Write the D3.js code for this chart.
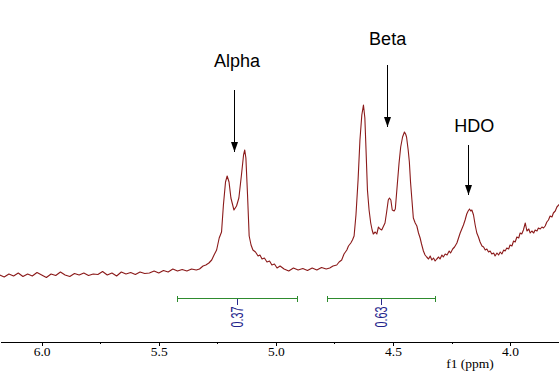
<!DOCTYPE html>
<meta charset="utf-8">
<style>
    body { margin: 0; background: #fff; }
    .spectrum { fill: none; stroke: #8b1a1a; stroke-width: 1.1px; stroke-linejoin: round; }
    .axis path, .axis line { stroke: #000; shape-rendering: crispEdges; }
    .axis text { font-family: "Liberation Serif", "Times New Roman", serif; font-size: 13.5px; fill: #000; }
    .peak-label { font-family: "Liberation Sans", Arial, sans-serif; font-size: 18px; fill: #000; }
    .integral line { stroke: #2e8b2e; stroke-width: 1px; shape-rendering: crispEdges; }
    .integral .mark { stroke: #2a2a8c; }
    .integral text { font-family: "Liberation Sans", Arial, sans-serif; font-size: 16px; fill: #22228b; }
</style>
<svg width="559" height="387"></svg>
<script src="https://d3js.org/d3.v7.min.js"></script>
<script>

    // spectrum: [shift (ppm), intensity (a.u.)]
    var baselineLeft = [
        [6.18, 5], [6.16, 3], [6.14, 6], [6.12, 4], [6.10, 7], [6.08, 3.5], [6.06, 6], [6.04, 4],
        [6.02, 7.5], [6.00, 5], [5.98, 2.5], [5.96, 6], [5.94, 4.5], [5.92, 8], [5.90, 5], [5.88, 3.5],
        [5.86, 6.5], [5.84, 5], [5.82, 7], [5.80, 4.5], [5.78, 6], [5.76, 5.5], [5.74, 8.5], [5.72, 5],
        [5.70, 7], [5.68, 4], [5.66, 8], [5.64, 6], [5.62, 7.5], [5.60, 5.5], [5.58, 8], [5.56, 6.5],
        [5.54, 7], [5.52, 9], [5.50, 7], [5.48, 9.5], [5.46, 8], [5.44, 11], [5.42, 9], [5.40, 10.5],
        [5.38, 9], [5.36, 11], [5.34, 10], [5.326, 11]
    ];
    var alphaPeak = [
        [5.311, 14], [5.299, 15], [5.286, 17], [5.274, 20], [5.264, 25], [5.253, 30], [5.242, 42],
        [5.232, 48], [5.224, 75], [5.215, 98], [5.208, 104], [5.200, 98], [5.192, 82], [5.179, 70],
        [5.168, 74], [5.158, 82], [5.147, 105], [5.138, 125], [5.133, 130], [5.128, 122], [5.121, 85],
        [5.114, 44], [5.106, 35], [5.098, 30], [5.087, 28], [5.076, 24], [5.068, 25], [5.059, 21],
        [5.049, 22], [5.038, 18], [5.027, 19], [5.017, 15], [5.006, 16], [4.995, 12], [4.982, 14]
    ];
    var middle = [
        [4.965, 11], [4.945, 9], [4.925, 12], [4.905, 10], [4.885, 11.5], [4.865, 9.5], [4.845, 12],
        [4.825, 10], [4.805, 12.5], [4.785, 11], [4.770, 12]
    ];
    var betaPeak = [
        [4.756, 14], [4.740, 15], [4.730, 18], [4.719, 20], [4.709, 26], [4.697, 30], [4.690, 34],
        [4.680, 37], [4.673, 40], [4.666, 44], [4.658, 65], [4.649, 100], [4.641, 140], [4.633, 165],
        [4.626, 175], [4.620, 162], [4.615, 130], [4.609, 90], [4.602, 70], [4.595, 57], [4.589, 50],
        [4.584, 46], [4.576, 48], [4.569, 46], [4.562, 53], [4.555, 51], [4.548, 50], [4.540, 54],
        [4.534, 57], [4.527, 68], [4.520, 80], [4.515, 82], [4.509, 80], [4.503, 70], [4.495, 69],
        [4.490, 71], [4.481, 97], [4.474, 117], [4.467, 133], [4.459, 143], [4.451, 148], [4.446, 146],
        [4.442, 143], [4.435, 130], [4.430, 118], [4.425, 98], [4.419, 80], [4.413, 62], [4.405, 57],
        [4.398, 54], [4.391, 47], [4.384, 42], [4.378, 36], [4.370, 29], [4.363, 25], [4.356, 23],
        [4.348, 21], [4.341, 24], [4.334, 20], [4.327, 22], [4.320, 19], [4.313, 21], [4.305, 23],
        [4.299, 21], [4.291, 25], [4.285, 23], [4.277, 26], [4.269, 25], [4.260, 29], [4.254, 27],
        [4.245, 31], [4.237, 33]
    ];
    var hdoRegion = [
        [4.227, 37], [4.220, 42], [4.213, 47], [4.206, 51], [4.199, 55], [4.192, 60], [4.185, 66],
        [4.179, 69], [4.173, 71], [4.168, 69], [4.163, 70], [4.156, 65], [4.149, 55], [4.142, 47],
        [4.135, 43], [4.128, 38], [4.120, 34], [4.113, 33], [4.106, 30], [4.099, 31], [4.092, 28],
        [4.085, 29], [4.078, 26], [4.070, 27], [4.064, 24], [4.056, 27], [4.049, 25], [4.042, 28],
        [4.035, 26], [4.027, 30], [4.021, 29], [4.014, 32], [4.006, 31], [4.000, 35], [3.992, 34],
        [3.985, 39], [3.978, 38], [3.971, 43], [3.963, 42], [3.957, 47], [3.950, 46], [3.943, 50],
        [3.935, 57], [3.928, 49], [3.920, 51], [3.914, 47], [3.907, 49], [3.899, 47], [3.893, 50],
        [3.885, 49], [3.879, 52], [3.871, 51], [3.864, 53], [3.857, 52], [3.850, 54], [3.843, 58],
        [3.836, 60], [3.829, 64], [3.821, 63], [3.815, 67], [3.807, 69], [3.800, 73], [3.792, 75],
        [3.786, 77]
    ];

    var majorTicks = [6.0, 5.5, 5.0, 4.5, 4.0];
    var minorTicks = [5.75, 5.25, 4.75, 4.25];

    // integrals
    var integralFrom = [5.421, 4.783];
    var integralTo = [4.911, 4.319];
    var integralValues = ["0.37", "0.63"];

    // peak annotations
    var peakNames = ["Alpha", "Beta", "HDO"];
    var peakShift = [5.179, 4.527, 4.178];
    var arrowTipIntensity = [128, 153, 85];

    var svg = d3.select("svg"),
        width = +svg.attr("width"),
        height = +svg.attr("height");

    var x = d3.scaleLinear().domain([6.178, 3.791]).range([0, width]);
    var y = d3.scaleLinear().domain([0, 180]).range([280, 100]);

    var spectrum = [].concat(baselineLeft, alphaPeak, middle, betaPeak, hdoRegion);

    var line = d3.line()
        .x(function (d) { return x(d[0]); })
        .y(function (d) { return y(d[1]); });

    svg.append("path")
        .attr("class", "spectrum")
        .datum(spectrum)
        .attr("d", line);

    // arrows + labels
    svg.append("defs").append("marker")
        .attr("id", "head")
        .attr("viewBox", "0 -4 10 8")
        .attr("refX", 10)
        .attr("refY", 0)
        .attr("markerUnits", "userSpaceOnUse")
        .attr("markerWidth", 10)
        .attr("markerHeight", 8)
        .attr("orient", "auto")
        .append("path")
        .attr("d", "M0,-3.5L10,0L0,3.5Z")
        .style("fill", "#000");

    var arrowLen = [62, 62, 50];
    var labelGap = [23, 20, 13];
    var labelDx = [3, 1, 6];

    var ann = svg.append("g").selectAll("g")
        .data(peakNames)
        .enter().append("g");

    ann.append("line")
        .attr("x1", function (d, i) { return Math.round(x(peakShift[i])) + 0.5; })
        .attr("x2", function (d, i) { return Math.round(x(peakShift[i])) + 0.5; })
        .attr("y1", function (d, i) { return y(arrowTipIntensity[i]) - arrowLen[i]; })
        .attr("y2", function (d, i) { return y(arrowTipIntensity[i]); })
        .attr("stroke", "#000")
        .attr("stroke-width", 1)
        .attr("marker-end", "url(#head)");

    ann.append("text")
        .attr("class", "peak-label")
        .attr("text-anchor", "middle")
        .attr("x", function (d, i) { return x(peakShift[i]) + labelDx[i]; })
        .attr("y", function (d, i) { return y(arrowTipIntensity[i]) - arrowLen[i] - labelGap[i]; })
        .text(function (d) { return d; });

    // integrals
    var barY = 298.5;
    var integ = svg.append("g").attr("class", "integral")
        .selectAll("g")
        .data(integralValues)
        .enter().append("g");

    integ.append("line")
        .attr("x1", function (d, i) { return x(integralFrom[i]); })
        .attr("x2", function (d, i) { return x(integralTo[i]); })
        .attr("y1", barY).attr("y2", barY);
    integ.append("line")
        .attr("x1", function (d, i) { return Math.round(x(integralFrom[i])) + 0.5; })
        .attr("x2", function (d, i) { return Math.round(x(integralFrom[i])) + 0.5; })
        .attr("y1", barY - 3).attr("y2", barY + 3);
    integ.append("line")
        .attr("x1", function (d, i) { return Math.round(x(integralTo[i])) + 0.5; })
        .attr("x2", function (d, i) { return Math.round(x(integralTo[i])) + 0.5; })
        .attr("y1", barY - 3).attr("y2", barY + 3);

    function mid(i) { return Math.round(x((integralFrom[i] + integralTo[i]) / 2)) + 0.5; }

    integ.append("line")
        .attr("class", "mark")
        .attr("x1", function (d, i) { return mid(i); })
        .attr("x2", function (d, i) { return mid(i); })
        .attr("y1", barY).attr("y2", barY + 6);

    integ.append("text")
        .attr("transform", function (d, i) { return "translate(" + mid(i) + "," + (barY + 8) + ") rotate(-90)"; })
        .attr("text-anchor", "end")
        .attr("dy", "0.36em")
        .attr("textLength", 21)
        .attr("lengthAdjust", "spacingAndGlyphs")
        .text(function (d) { return d; });

    // axis
    var axisY = 342;
    var axis = svg.append("g")
        .attr("class", "axis")
        .attr("transform", "translate(0," + axisY + ")")
        .call(d3.axisBottom(x)
            .tickValues(majorTicks)
            .tickFormat(d3.format(".1f"))
            .tickSize(4)
            .tickSizeOuter(0)
            .tickPadding(0));

    axis.selectAll(".minor")
        .data(minorTicks)
        .enter().append("line")
        .attr("class", "minor")
        .attr("x1", function (d) { return Math.round(x(d)) + 0.5; })
        .attr("x2", function (d) { return Math.round(x(d)) + 0.5; })
        .attr("y1", 0).attr("y2", 2);

    axis.append("text")
        .attr("x", 470)
        .attr("y", 368 - axisY)
        .attr("text-anchor", "middle")
        .text("f1 (ppm)");

</script>
